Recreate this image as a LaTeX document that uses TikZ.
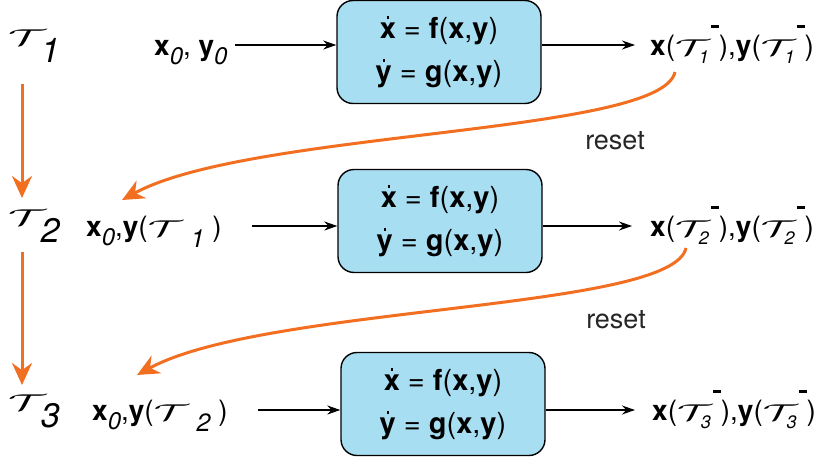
\documentclass[tikz,border=0pt]{standalone}
\usepackage{fontspec}
\setmainfont{TeX Gyre Heros}
\usetikzlibrary{arrows.meta}
\definecolor{orng}{HTML}{F26F21}
\definecolor{boxblue}{HTML}{A8DEF2}
\newcommand\bx{\textbf{x}}
\newcommand\by{\textbf{y}}
\newcommand\sbs[2][24]{\raisebox{-0.33em}{\fontsize{#1}{#1}\selectfont\itshape #2}}
\newcommand\Tcal[1][1.75]{\scalebox{#1}[0.92]{$\mathcal{T}$}}
\newcommand\Tmin[1]{\Tcal\rlap{\kern1pt\rule[27pt]{8pt}{2.8pt}}\llap{\raisebox{-8pt}{\fontsize{18}{18}\selectfont\itshape #1}\kern1pt}\kern9pt}
\newcommand\Tin[1]{\Tcal\kern8pt\raisebox{-11pt}{\fontsize{25}{25}\selectfont\itshape #1}\kern8pt}
\newcommand\Tleft[1]{\Tcal[1.9]\kern-5pt\raisebox{-17pt}{\fontsize{34}{34}\selectfont\itshape #1}}
\newcommand\dx{\rlap{\kern7pt\raisebox{20pt}{\rule{2.2pt}{3pt}}}\textbf{x}}
\newcommand\dy{\rlap{\kern7pt\raisebox{20pt}{\rule{2.2pt}{3pt}}}\textbf{y}}
\begin{document}
\begin{tikzpicture}[x=1pt,y=-1pt,
  lbl/.style={inner sep=0pt, font=\fontsize{28}{32}\selectfont},
  tlbl/.style={inner sep=0pt, font=\fontsize{30}{34}\selectfont},
  eqbox/.style={draw, line width=1.4pt, rounded corners=16pt, fill=boxblue,
    minimum width=204pt, minimum height=103pt, align=center,
    font=\fontsize{29}{43}\selectfont},
  flow/.style={-{Stealth[length=13pt,width=9pt]}, line width=1.2pt},
  oarr/.style={color=orng, line width=3pt, -{Stealth[length=22pt,width=20pt]}},
  rst/.style={inner sep=0pt, font=\fontsize{27}{29}\selectfont, text=black!85}
]
\useasboundingbox (0,0) rectangle (831,461);

% left time labels
\node[tlbl, anchor=base west] (T1) at (8,45) {\Tleft{1}};
\node[tlbl, anchor=base west] (T2) at (8,225) {\Tleft{2}};
\node[tlbl, anchor=base west] (T3) at (8,410) {\Tleft{3}};

% boxes
\node[eqbox] (b1) at (439,52) {\dx{} = \textbf{f}(\bx,\by)\\ \dy{} = \textbf{g}(\bx,\by)};
\node[eqbox] (b2) at (440,221) {\dx{} = \textbf{f}(\bx,\by)\\ \dy{} = \textbf{g}(\bx,\by)};
\node[eqbox] (b3) at (443,404) {\dx{} = \textbf{f}(\bx,\by)\\ \dy{} = \textbf{g}(\bx,\by)};

% inputs
\node[lbl, anchor=base west] (in1) at (154,55) {\bx\sbs{0}, \by\sbs{0}};
\node[lbl, anchor=base west] (in2) at (86,236) {\bx\sbs{0},\by(\Tin{1})};
\node[lbl, anchor=base west] (in3) at (92,420) {\bx\sbs{0},\by(\Tin{2})};

% outputs
\node[lbl, anchor=base west] (o1) at (650,55) {\bx(\Tmin{1}),\by(\Tmin{1})};
\node[lbl, anchor=base west] (o2) at (650,236) {\bx(\Tmin{2}),\by(\Tmin{2})};
\node[lbl, anchor=base west] (o3) at (652,420) {\bx(\Tmin{3}),\by(\Tmin{3})};

% flow arrows
\draw[flow, shorten <=7pt] (in1.east |- 0,45) -- (b1.west |- 0,45);
\draw[flow, shorten <=30pt] (in2.east |- 0,226) -- (b2.west |- 0,226);
\draw[flow, shorten <=30pt] (in3.east |- 0,410) -- (b3.west |- 0,410);
\draw[flow, shorten >=15pt] (b1.east |- 0,45) -- (o1.west |- 0,45);
\draw[flow, shorten >=18pt] (b2.east |- 0,226) -- (o2.west |- 0,226);
\draw[flow, shorten >=17pt] (b3.east |- 0,410) -- (o3.west |- 0,410);

% orange time arrows
\draw[oarr] (22,84) -- (22,198);
\draw[oarr] (22,252) -- (22,385);

% reset curves
\coordinate (r1s) at (675,72);
\coordinate (r1e) at (122,200);
\coordinate (r2s) at (686,248);
\coordinate (r2e) at (137,375);
\draw[oarr] (r1s) .. controls (662,135) and (250,130) .. (r1e);
\draw[oarr] (r2s) .. controls (673,311) and (265,305) .. (r2e);
\node[rst] (rs1) at (615,141) {reset};
\node[rst] (rs2) at (616,320) {reset};
\end{tikzpicture}
\end{document}
